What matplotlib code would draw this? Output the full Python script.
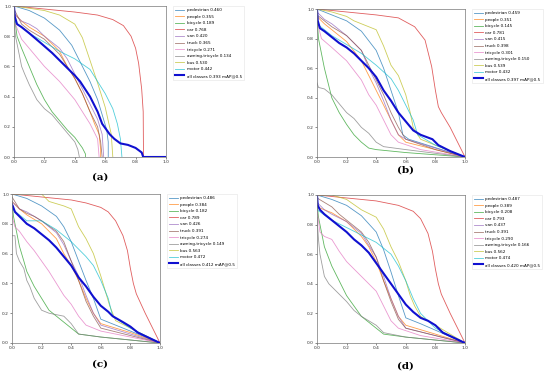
import matplotlib
matplotlib.use("Agg")
import matplotlib.pyplot as plt

classes = ["pedestrian", "people", "bicycle", "car", "van", "truck",
           "tricycle", "awning-tricycle", "bus", "motor"]

ap_a = [0.460, 0.355, 0.189, 0.768, 0.420, 0.365, 0.271, 0.134, 0.530, 0.442]
ap_b = [0.459, 0.351, 0.145, 0.781, 0.415, 0.398, 0.301, 0.150, 0.539, 0.432]
ap_c = [0.486, 0.384, 0.182, 0.789, 0.426, 0.391, 0.274, 0.149, 0.563, 0.472]
ap_d = [0.487, 0.389, 0.208, 0.793, 0.437, 0.391, 0.290, 0.166, 0.562, 0.474]
map_all = [0.393, 0.397, 0.412, 0.420]
panel_tags = ["(a)", "(b)", "(c)", "(d)"]

# recall / precision points
curves_a = {
    "pedestrian": ([0, .1, .2, .3, .38, .45, .5, .55, .58, .61, .62, .62],
                   [1, .97, .92, .84, .74, .6, .5, .38, .28, .18, .1, 0]),
    "people": ([0, .05, .1, .2, .3, .35, .4, .45, .5, .53, .56, .57, .57],
               [.95, .9, .86, .8, .7, .6, .52, .42, .3, .22, .15, .05, 0]),
    "bicycle": ([0, .02, .05, .1, .15, .2, .25, .3, .35, .4, .45, .47, .47],
                [.95, .8, .72, .6, .48, .38, .3, .24, .18, .13, .06, .02, 0]),
    "car": ([0, .2, .4, .55, .65, .72, .77, .8, .82, .84, .85, .852],
            [1, .98, .96, .94, .91, .87, .8, .72, .62, .45, .3, 0]),
    "van": ([0, .05, .1, .15, .2, .3, .35, .4, .45, .5, .55, .58, .59],
            [.95, .9, .88, .85, .8, .72, .65, .55, .45, .35, .25, .15, 0]),
    "truck": ([0, .05, .1, .2, .3, .4, .45, .5, .55, .57, .58],
              [.98, .88, .84, .78, .68, .52, .42, .3, .2, .1, 0]),
    "tricycle": ([0, .05, .1, .2, .3, .4, .45, .5, .55, .56],
                 [.9, .78, .72, .6, .5, .38, .3, .22, .12, 0]),
    "awning-tricycle": ([0, .01, .03, .05, .07, .1, .15, .2, .25, .3, .35, .4, .42, .43],
                        [.9, .8, .7, .6, .55, .48, .38, .32, .28, .22, .16, .1, .05, 0]),
    "bus": ([0, .2, .3, .4, .45, .5, .55, .6, .64, .65],
            [1, .97, .94, .88, .79, .64, .49, .33, .15, 0]),
    "motor": ([0, .1, .2, .3, .4, .5, .55, .6, .65, .68, .7, .71],
              [.9, .82, .76, .7, .65, .58, .5, .42, .32, .22, .12, 0]),
    "all": ([0, .005, .02, .05, .1, .17, .25, .3, .35, .4, .435, .5, .55, .58, .63,
             .66, .7, .75, .8, .84, .85, 1],
            [1, .93, .88, .86, .82, .76, .69, .64, .59, .54, .5, .4, .3, .22, .15,
             .12, .09, .08, .06, .03, 0, 0]),
}

curves_b = {
    "pedestrian": ([0, .1, .2, .3, .4, .45, .5, .55, .58, .62, 1],
                   [1, .96, .92, .85, .72, .6, .45, .3, .15, .12, 0]),
    "people": ([0, .05, .1, .2, .3, .35, .4, .45, .5, .55, .6, .8, 1],
               [.95, .9, .86, .78, .65, .55, .45, .35, .25, .15, .1, .05, 0]),
    "bicycle": ([0, .01, .03, .05, .08, .1, .15, .2, .25, .3, .35, .4, .6, 1],
                [.95, .8, .7, .6, .48, .4, .3, .22, .15, .1, .06, .05, .03, 0]),
    "car": ([0, .2, .4, .55, .66, .73, .775, .8, .82, .84, .9, 1],
            [1, .98, .96, .94, .88, .79, .61, .45, .34, .3, .2, 0]),
    "van": ([0, .05, .1, .15, .2, .3, .35, .4, .45, .5, .55, .6, 1],
            [.98, .93, .9, .86, .82, .72, .6, .5, .38, .25, .15, .12, 0]),
    "truck": ([0, .05, .1, .2, .3, .35, .4, .45, .5, .55, .6, .8, 1],
              [.96, .92, .88, .82, .72, .62, .52, .42, .3, .2, .12, .05, 0]),
    "tricycle": ([0, .03, .1, .2, .3, .35, .4, .45, .5, .55, .7, 1],
                 [.92, .8, .74, .65, .52, .42, .35, .25, .15, .1, .05, 0]),
    "awning-tricycle": ([0, .01, .05, .1, .15, .2, .25, .3, .35, .4, .45, .6, 1],
                        [.5, .47, .46, .42, .36, .3, .26, .2, .16, .1, .07, .05, 0]),
    "bus": ([0, .1, .2, .25, .35, .4, .45, .5, .55, .6, .63, .65, .7, 1],
            [1, .98, .95, .92, .88, .86, .75, .62, .55, .42, .3, .2, .12, 0]),
    "motor": ([0, .1, .2, .3, .4, .5, .55, .6, .65, .68, .8, 1],
              [.9, .82, .76, .7, .62, .53, .45, .35, .25, .15, .08, 0]),
    "all": ([0, .005, .02, .05, .1, .15, .2, .25, .3, .35, .4, .45, .5, .55, .6,
             .65, .7, .78, .82, .9, 1],
            [1, .92, .87, .85, .81, .77, .74, .7, .65, .6, .54, .45, .38, .3, .24,
             .18, .15, .12, .08, .04, 0]),
}

curves_c = {
    "pedestrian": ([0, .1, .2, .3, .35, .4, .45, .5, .55, .6, .7, 1],
                   [1, .97, .92, .85, .78, .68, .55, .42, .3, .16, .12, 0]),
    "people": ([0, .05, .1, .2, .3, .35, .4, .45, .5, .55, .6, .8, 1],
               [.95, .9, .86, .8, .7, .6, .52, .42, .3, .2, .13, .07, 0]),
    "bicycle": ([0, .01, .03, .05, .08, .1, .15, .2, .25, .3, .35, .4, .45, .6, 1],
                [.95, .85, .75, .65, .55, .48, .38, .3, .22, .18, .14, .1, .06, .04, 0]),
    "car": ([0, .2, .4, .5, .6, .65, .7, .75, .78, .8, .82, .84, .9, 1],
            [1, .98, .96, .94, .91, .88, .82, .72, .62, .5, .4, .33, .2, 0]),
    "van": ([0, .05, .1, .2, .3, .35, .4, .45, .5, .55, .6, 1],
            [.95, .9, .88, .82, .74, .66, .55, .45, .32, .2, .12, 0]),
    "truck": ([0, .05, .1, .15, .2, .3, .35, .4, .45, .5, .55, .6, 1],
              [.98, .9, .87, .85, .82, .75, .68, .55, .42, .28, .18, .1, 0]),
    "tricycle": ([0, .02, .05, .1, .15, .2, .25, .3, .35, .4, .45, .5, .6, 1],
                 [.85, .78, .75, .68, .62, .55, .48, .4, .32, .26, .18, .12, .08, 0]),
    "awning-tricycle": ([0, .02, .03, .05, .08, .1, .12, .15, .2, .25, .35, .4, .45, .6, 1],
                        [.72, .72, .6, .55, .5, .42, .38, .3, .22, .2, .18, .13, .06, .04, 0]),
    "bus": ([0, .1, .2, .25, .35, .4, .45, .5, .55, .6, .63, .66, .7, 1],
            [1, 1, 1, .95, .92, .9, .78, .7, .6, .45, .35, .25, .15, 0]),
    "motor": ([0, .1, .2, .3, .4, .5, .55, .6, .65, .68, .8, 1],
              [.9, .82, .82, .76, .68, .58, .52, .42, .3, .18, .1, 0]),
    "all": ([0, .005, .02, .05, .1, .15, .2, .25, .3, .35, .4, .45, .5, .55, .6,
             .65, .68, .75, .8, .85, 1],
            [.93, .92, .88, .85, .8, .77, .73, .69, .64, .58, .52, .44, .38, .31, .25,
             .21, .18, .14, .11, .07, 0]),
}

curves_d = {
    "pedestrian": ([0, .1, .2, .3, .4, .45, .5, .55, .6, .7, 1],
                   [1, .97, .93, .86, .75, .63, .48, .32, .17, .13, 0]),
    "people": ([0, .05, .1, .2, .3, .35, .4, .45, .5, .55, .6, .8, 1],
               [.92, .9, .88, .82, .72, .65, .55, .42, .3, .18, .12, .06, 0]),
    "bicycle": ([0, .01, .03, .05, .1, .15, .2, .25, .3, .35, .4, .45, .6, 1],
                [.95, .85, .75, .65, .52, .42, .32, .25, .18, .14, .1, .06, .04, 0]),
    "car": ([0, .2, .4, .55, .65, .7, .75, .78, .8, .82, .84, .9, 1],
            [1, .98, .96, .93, .89, .84, .74, .62, .5, .4, .33, .2, 0]),
    "van": ([0, .05, .1, .2, .3, .4, .45, .5, .55, .6, 1],
            [.95, .9, .87, .82, .74, .58, .45, .3, .18, .1, 0]),
    "truck": ([0, .1, .15, .2, .3, .35, .4, .45, .5, .55, .6, 1],
              [.98, .92, .87, .83, .75, .68, .58, .42, .28, .16, .1, 0]),
    "tricycle": ([0, .02, .05, .1, .15, .2, .25, .3, .35, .4, .45, .5, .55, .7, 1],
                 [.9, .75, .72, .7, .62, .55, .5, .45, .4, .35, .25, .15, .1, .05, 0]),
    "awning-tricycle": ([0, .01, .02, .03, .05, .08, .1, .15, .2, .25, .3, .35, .4, .45, .6, 1],
                        [.85, .7, .6, .55, .45, .4, .38, .33, .28, .22, .18, .15, .12, .07, .04, 0]),
    "bus": ([0, .1, .2, .3, .4, .45, .5, .55, .6, .63, .66, .7, 1],
            [1, 1, .97, .9, .85, .77, .65, .55, .42, .32, .25, .18, 0]),
    "motor": ([0, .1, .2, .3, .4, .5, .55, .6, .65, .7, .8, 1],
              [.9, .83, .78, .73, .68, .6, .52, .42, .3, .2, .1, 0]),
    "all": ([0, .005, .02, .05, .1, .15, .2, .25, .3, .35, .4, .45, .5, .55, .6,
             .65, .7, .75, .8, .85, 1],
            [1, .93, .9, .87, .83, .79, .75, .7, .66, .61, .54, .47, .4, .33, .26,
             .21, .17, .15, .12, .07, 0]),
}

colors = ["tab:blue", "tab:orange", "tab:green", "tab:red", "tab:purple",
          "tab:brown", "tab:pink", "tab:gray", "tab:olive", "tab:cyan"]

W, H = 550, 372
# axes boxes in pixels: left, top, right, bottom
boxes = [(14, 6, 166, 157), (317, 9, 465, 157),
         (12, 194, 160, 343), (317, 195, 465, 343)]
tag_pos = [(100, 177), (405, 170), (100, 364), (405, 366)]

fig = plt.figure(figsize=(W / 100, H / 100), dpi=100)

for i, (curves, aps) in enumerate(zip([curves_a, curves_b, curves_c, curves_d],
                                      [ap_a, ap_b, ap_c, ap_d])):
    l, t, r, b = boxes[i]
    ax = fig.add_axes([l / W, 1 - b / H, (r - l) / W, (b - t) / H])
    for name, ap, col in zip(classes, aps, colors):
        x, y = curves[name]
        ax.plot(x, y, color=col, lw=0.6, alpha=0.75, label=f"{name} {ap:.3f}")
    x, y = curves["all"]
    ax.plot(x, y, color="#1010d0", lw=1.5, label=f"all classes {map_all[i]:.3f} mAP@0.5")
    ax.set_xlim(0, 1)
    ax.set_ylim(0, 1)
    ax.set_xticks([0, 0.2, 0.4, 0.6, 0.8, 1.0])
    ax.set_yticks([0, 0.2, 0.4, 0.6, 0.8, 1.0])
    ax.tick_params(labelsize=3.2, length=1.2, width=0.4, pad=1, colors="#333333")
    for s in ax.spines.values():
        s.set_linewidth(0.5)
        s.set_color("#777777")
    leg = ax.legend(loc="upper left", bbox_to_anchor=(1.045, 1.0), fontsize=3.0,
                    frameon=True, handlelength=2.2, handletextpad=0.6,
                    labelspacing=0.62, borderpad=0.5, borderaxespad=0,
                    fancybox=False, edgecolor="#dddddd")
    leg.get_frame().set_linewidth(0.4)
    tx, ty = tag_pos[i]
    fig.text(tx / W, 1 - ty / H, panel_tags[i], ha="center", va="center",
             fontsize=7.5, fontweight="bold", family="DejaVu Serif")

fig.savefig("out.png", dpi=100)
